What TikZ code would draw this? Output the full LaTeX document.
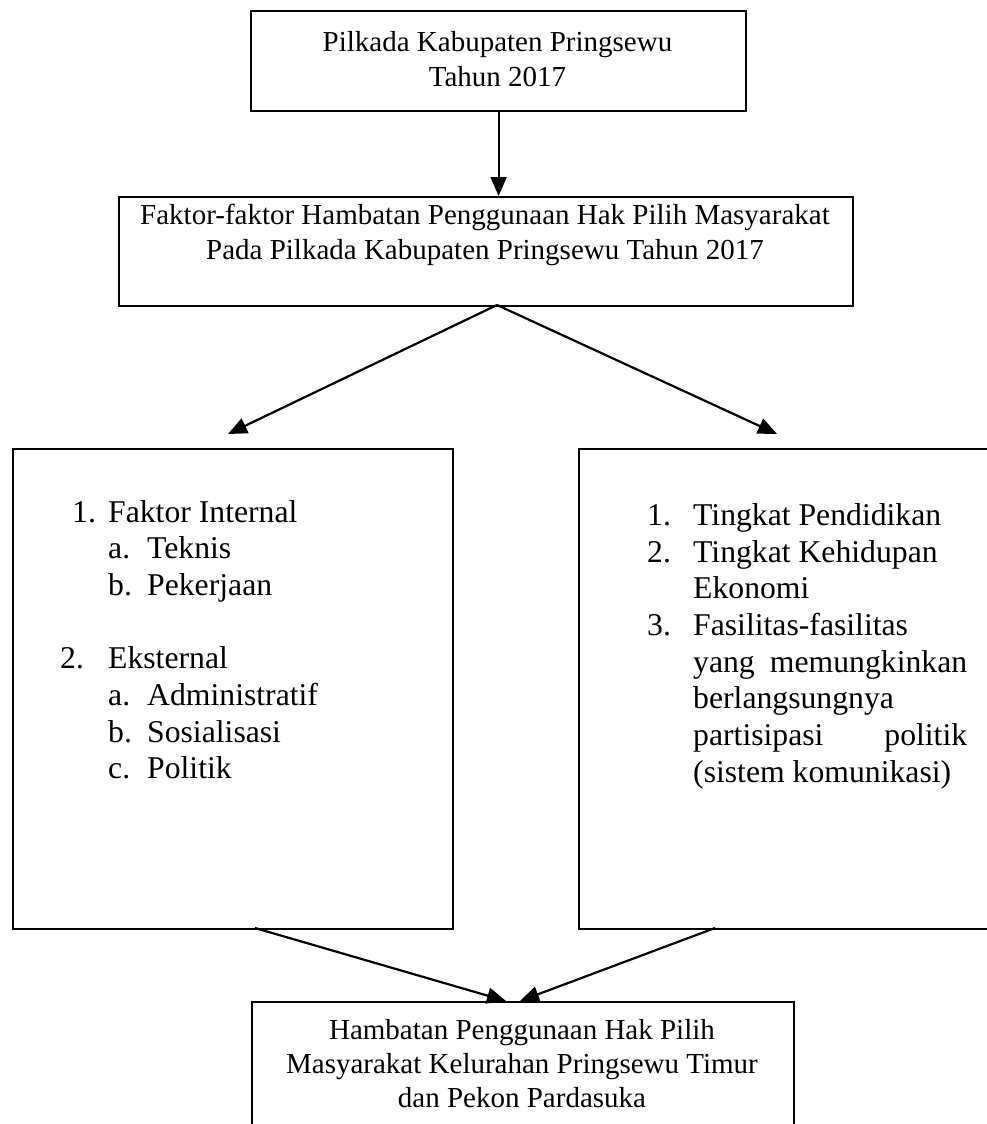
\documentclass[tikz,border=0pt]{standalone}
\usepackage{fontspec}
\setmainfont{Liberation Serif}
\usetikzlibrary{arrows.meta}
\begin{document}
\begin{tikzpicture}[x=1pt,y=-1pt,
  box/.style={draw, line width=2.2pt, rectangle, inner sep=0pt, anchor=north west},
  small/.style={font=\fontsize{29}{33.4}\selectfont, inner sep=0pt, anchor=base},
  big/.style={font=\fontsize{31.7}{36.6}\selectfont, inner sep=0pt, anchor=base west},
  arr/.style={line width=2.2pt, -{Triangle[length=19pt,width=16pt]}},
  ln/.style={line width=2.2pt}]
\useasboundingbox (0,0) rectangle (987,1124);
\clip (0,0) rectangle (987,1124);
% boxes
\node[box, minimum width=495pt, minimum height=100pt] (top) at (250,10) {};
\node[box, minimum width=734pt, minimum height=109pt] (mid) at (118,196) {};
\node[box, minimum width=440pt, minimum height=480pt] (L) at (12,448) {};
\node[box, minimum width=450pt, minimum height=480pt] (R) at (578,448) {};
\node[box, minimum width=542pt, minimum height=160pt] (B) at (251,1001) {};
% texts
\node[small] (t1) at (497.5,52) {Pilkada Kabupaten Pringsewu};
\node[small] (t2) at (497.5,86) {Tahun 2017};
\node[small] (m1) at (485,224) {Faktor-faktor Hambatan Penggunaan Hak Pilih Masyarakat};
\node[small] (m2) at (485,259) {Pada Pilkada Kabupaten Pringsewu Tahun 2017};
\node[small] (b1) at (522,1039) {Hambatan Penggunaan Hak Pilih};
\node[small] (b2) at (522,1073) {Masyarakat Kelurahan Pringsewu Timur};
\node[small] (b3) at (522,1107) {dan Pekon Pardasuka};
\node[big] (l1) at (72,522) {\makebox[36pt][l]{1.}Faktor Internal};
\node[big] (l1a) at (108,558) {\makebox[39pt][l]{a.}Teknis};
\node[big] (l1b) at (108,595) {\makebox[39pt][l]{b.}Pekerjaan};
\node[big] (l2) at (60,668) {\makebox[48pt][l]{2.}Eksternal};
\node[big] (l2a) at (108,705) {\makebox[39pt][l]{a.}Administratif};
\node[big] (l2b) at (108,742) {\makebox[39pt][l]{b.}Sosialisasi};
\node[big] (l2c) at (108,778) {\makebox[39pt][l]{c.}Politik};
\node[big] (r1) at (647,525) {\makebox[46pt][l]{1.}Tingkat Pendidikan};
\node[big] (r2) at (647,562) {\makebox[46pt][l]{2.}Tingkat Kehidupan};
\node[big] (r2b) at (693,598) {Ekonomi};
\node[big] (r3) at (647,635) {\makebox[46pt][l]{3.}Fasilitas-fasilitas};
\node[big] (r3b) at (693,672) {\makebox[274pt][s]{yang\hfill memungkinkan}};
\node[big] (r3c) at (693,708) {berlangsungnya};
\node[big] (r3d) at (693,745) {\makebox[274pt][s]{partisipasi\hfill politik}};
\node[big] (r3e) at (693,782) {(sistem komunikasi)};
% connector points
\coordinate (apex) at (497,305);
\coordinate (tipL) at (228,434);
\coordinate (tipR) at (777,434);
\coordinate (Lout) at (255,928);
\coordinate (Rout) at (715,928);
\coordinate (tipB1) at (506,1001);
\coordinate (tipB2) at (520,1001);
% connectors
\draw[arr] (top.south) -- (top.south |- mid.north);
\draw[arr] (apex) -- (tipL);
\draw[arr] (apex) -- (tipR);
\draw[arr] (Lout) -- (tipB1);
\draw[arr] (Rout) -- (tipB2);
\end{tikzpicture}
\end{document}
